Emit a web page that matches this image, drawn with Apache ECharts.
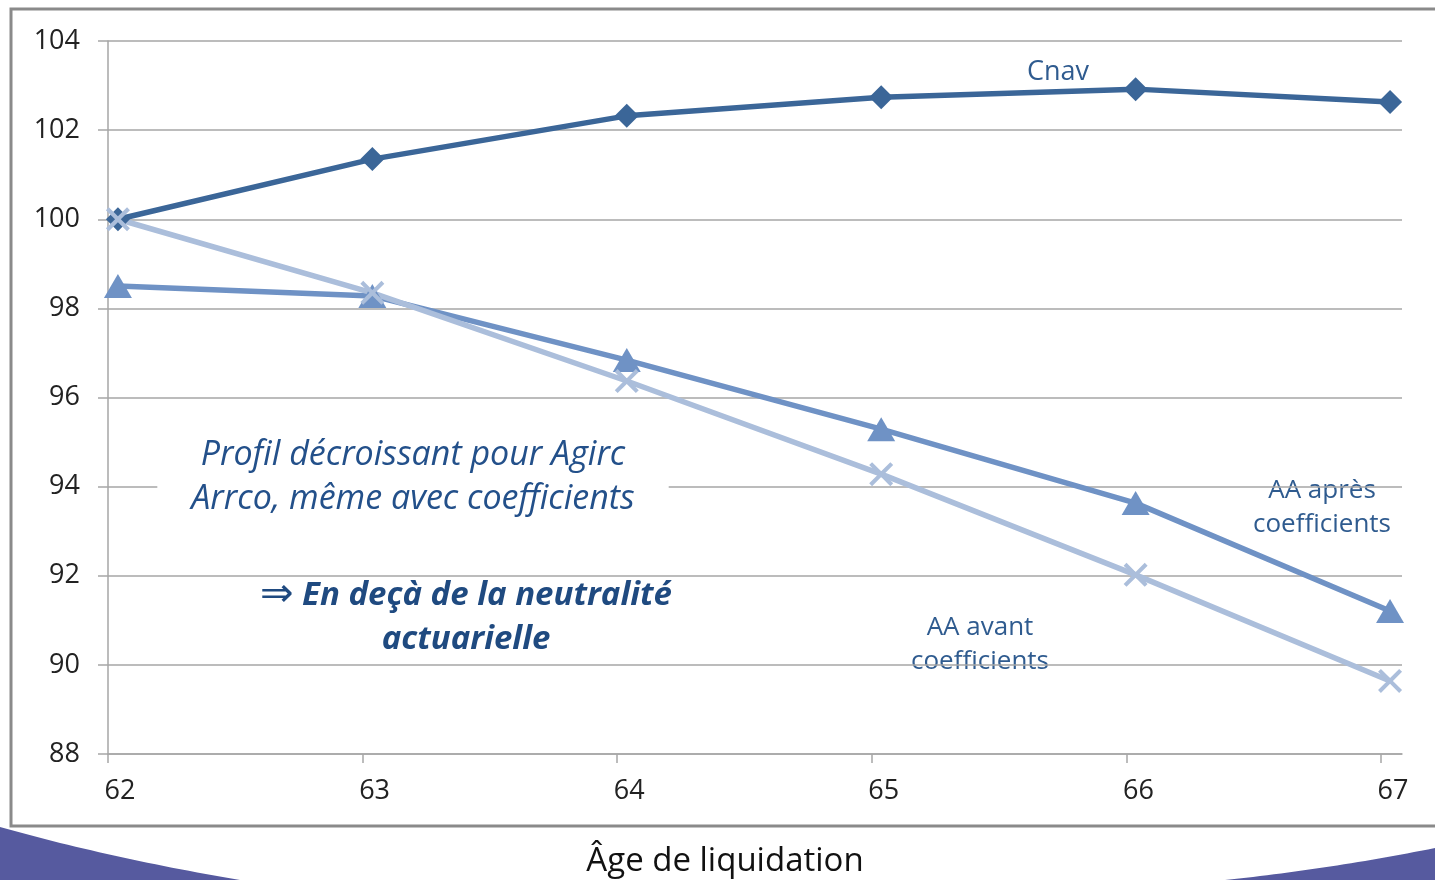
<!DOCTYPE html>
<html>
<head>
<meta charset="utf-8">
<script src="https://cdn.jsdelivr.net/npm/echarts@6/dist/echarts.min.js"></script>
<style>
  html, body { margin: 0; padding: 0; background: #fff; }
  #chart { width: 1435px; height: 880px; }
</style>
</head>
<body>
<div id="chart"></div>
<script>
// ages de liquidation
const ages = [62, 63, 64, 65, 66, 67];
// indices (base 100 a 62 ans)
const cnav = [100, 101.35, 102.32, 102.74, 102.92, 102.63];
const aaApres = [98.5, 98.28, 96.84, 95.29, 93.63, 91.21];
const aaAvant = [100, 98.35, 96.37, 94.28, 92.02, 89.64];
const yTicks = [88, 90, 92, 94, 96, 98, 100, 102, 104];

const gridColor = '#a6a6a6';
const font = '"Open Sans", sans-serif';
const crossPath = 'path://M0,1.2L1.2,0L5,3.8L8.8,0L10,1.2L6.2,5L10,8.8L8.8,10L5,6.2L1.2,10L0,8.8L3.8,5Z';

const pairs = (vals) => ages.map((a, i) => [a, vals[i]]);

// bande decorative en bas (courbe quadratique)
function curve(p0, c, p1, closeTo) {
    const pts = [];
    for (let i = 0; i <= 30; i++) {
        const t = i / 30;
        pts.push([
            (1 - t) * (1 - t) * p0[0] + 2 * (1 - t) * t * c[0] + t * t * p1[0],
            (1 - t) * (1 - t) * p0[1] + 2 * (1 - t) * t * c[1] + t * t * p1[1]
        ]);
    }
    pts.push(closeTo);
    return pts;
}

const chart = echarts.init(document.getElementById('chart'));
chart.setOption({
    animation: false,
    grid: [
        { left: 108, right: 33, top: 41, bottom: 126 },
        { left: 108, right: 54, top: 41, bottom: 126 }
    ],
    xAxis: [
        {
            type: 'value', gridIndex: 0,
            min: 61.961, max: 67.047,
            axisLine: { show: true, lineStyle: { color: gridColor, width: 1.5 } },
            axisTick: { show: false },
            axisLabel: { show: false },
            splitLine: { show: false }
        },
        {
            type: 'value', gridIndex: 1,
            min: ages[0], max: ages[ages.length - 1], interval: 1,
            axisLine: { show: false },
            axisTick: { show: true, length: 9, lineStyle: { color: gridColor, width: 1.5 } },
            axisLabel: {
                margin: 24, fontSize: 27, fontFamily: font, color: '#222',
                padding: [0, 0, 0, 24],
                formatter: v => String(v)
            },
            splitLine: { show: false }
        }
    ],
    yAxis: [
        {
            type: 'value', gridIndex: 0,
            min: yTicks[0], max: yTicks[yTicks.length - 1], interval: 2,
            axisLine: { show: true, lineStyle: { color: gridColor, width: 1.5 } },
            axisTick: { show: true, length: 10, lineStyle: { color: gridColor, width: 1.5 } },
            axisLabel: { margin: 28, fontSize: 27, fontFamily: font, color: '#222' },
            splitLine: { show: true, lineStyle: { color: gridColor, width: 1.5 } }
        },
        { type: 'value', gridIndex: 1, min: 88, max: 104, show: false }
    ],
    series: [
        {
            name: 'Cnav', type: 'line', data: pairs(cnav),
            symbol: 'diamond', symbolSize: 24,
            lineStyle: { color: '#3b6698', width: 5.5 },
            itemStyle: { color: '#3b6698' }
        },
        {
            name: 'AA après coefficients', type: 'line', data: pairs(aaApres),
            symbol: 'triangle', symbolSize: [28, 24],
            lineStyle: { color: '#6f92c5', width: 5.5 },
            itemStyle: { color: '#6f92c5' }
        },
        {
            name: 'AA avant coefficients', type: 'line', data: pairs(aaAvant),
            symbol: crossPath, symbolSize: 24,
            lineStyle: { color: '#abbedb', width: 5.5 },
            itemStyle: { color: '#abbedb' }
        }
    ],
    graphic: [
        {
            type: 'rect', z: -1, silent: true,
            shape: { x: 11, y: 9, width: 1440, height: 817 },
            style: { fill: 'none', stroke: '#8a8a8a', lineWidth: 3 }
        },
        {
            type: 'polygon', silent: true,
            shape: { points: curve([0, 827], [110, 858], [240, 880], [0, 880]) },
            style: { fill: '#565a9f' }
        },
        {
            type: 'polygon', silent: true,
            shape: { points: curve([1435, 848], [1330, 869], [1225, 880], [1435, 880]) },
            style: { fill: '#565a9f' }
        },
        {
            type: 'text', silent: true, x: 725, y: 862,
            style: { text: 'Âge de liquidation', font: '33px ' + font, fill: '#111', align: 'center', verticalAlign: 'middle' }
        },
        {
            type: 'text', silent: true, x: 1058, y: 72,
            style: { text: 'Cnav', font: '27px ' + font, fill: '#2f5b8f', align: 'center', verticalAlign: 'middle' }
        },
        {
            type: 'text', silent: true, x: 1322, y: 508,
            style: { text: 'AA après\ncoefficients', font: '26px ' + font, lineHeight: 34, fill: '#2f5b8f', align: 'center', verticalAlign: 'middle' }
        },
        {
            type: 'text', silent: true, x: 980, y: 645,
            style: { text: 'AA avant\ncoefficients', font: '26px ' + font, lineHeight: 34, fill: '#2f5b8f', align: 'center', verticalAlign: 'middle' }
        },
        {
            type: 'text', silent: true, x: 413, y: 477, z: 10,
            style: {
                text: 'Profil décroissant pour Agirc\nArrco, même avec coefficients',
                font: 'italic 34px "Open Sans", sans-serif', lineHeight: 44, fill: '#23508a',
                align: 'center', verticalAlign: 'middle',
                backgroundColor: '#fff', padding: [2, 34, 2, 34]
            }
        },
        {
            type: 'text', silent: true, x: 466, y: 618,
            style: {
                text: '{a|⇒}{b| En deçà de la neutralité}\n{b|actuarielle}',
                fill: '#1f4a80', align: 'center', verticalAlign: 'middle',
                rich: {
                    a: { fontSize: 40, fontFamily: '"DejaVu Sans", sans-serif', fill: '#1f4a80', lineHeight: 44 },
                    b: { fontSize: 33, fontStyle: 'italic', fontWeight: 'bold', fontFamily: '"Open Sans", sans-serif', fill: '#1f4a80', lineHeight: 44 }
                }
            }
        }
    ]
});
</script>
</body>
</html>
